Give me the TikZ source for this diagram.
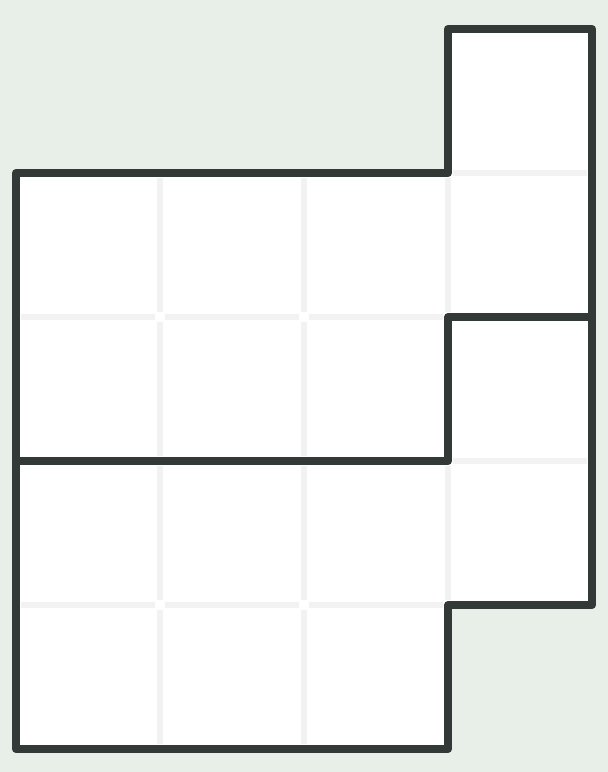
\documentclass[tikz,border=0pt]{standalone}
\usepackage{tikz}
\definecolor{bgc}{HTML}{E8EFE8}
\definecolor{darkc}{HTML}{323937}
\definecolor{gridc}{HTML}{F2F2F2}
\tikzset{
  outline/.style={draw=darkc, line width=8pt, line join=round, line cap=round},
  gridline/.style={draw=gridc, line width=6pt, shorten <=5pt, shorten >=5pt}
}
\begin{document}
\begin{tikzpicture}[x=1pt,y=-1pt]
\useasboundingbox (0,0) rectangle (608,772);
\fill[bgc] (0,0) rectangle (608,772);
% white cells
\fill[white] (448,29) -- (592,29) -- (592,605) -- (448,605) -- (448,749) -- (16,749) -- (16,173) -- (448,173) -- cycle;
% light internal grid lines
\foreach \x in {160,304} {
  \foreach \y in {173,317,461,605} {
    \draw[gridline] (\x,\y) -- (\x,\y+144);
  }
}
\foreach \y in {173,461} { \draw[gridline] (448,\y) -- (448,\y+144); }
\foreach \x in {16,160,304,448} { \draw[gridline] (\x,317) -- (\x+144,317); }
\foreach \x in {16,160,304,448} { \draw[gridline] (\x,461) -- (\x+144,461); }
\foreach \x in {16,160,304} { \draw[gridline] (\x,605) -- (\x+144,605); }
\draw[gridline] (448,173) -- (592,173);
% thick outlines
\draw[outline] (448,29) -- (592,29) -- (592,605) -- (448,605) -- (448,749) -- (16,749) -- (16,173) -- (448,173) -- cycle;
\draw[outline] (16,461) -- (448,461) -- (448,317) -- (592,317);
\end{tikzpicture}
\end{document}
